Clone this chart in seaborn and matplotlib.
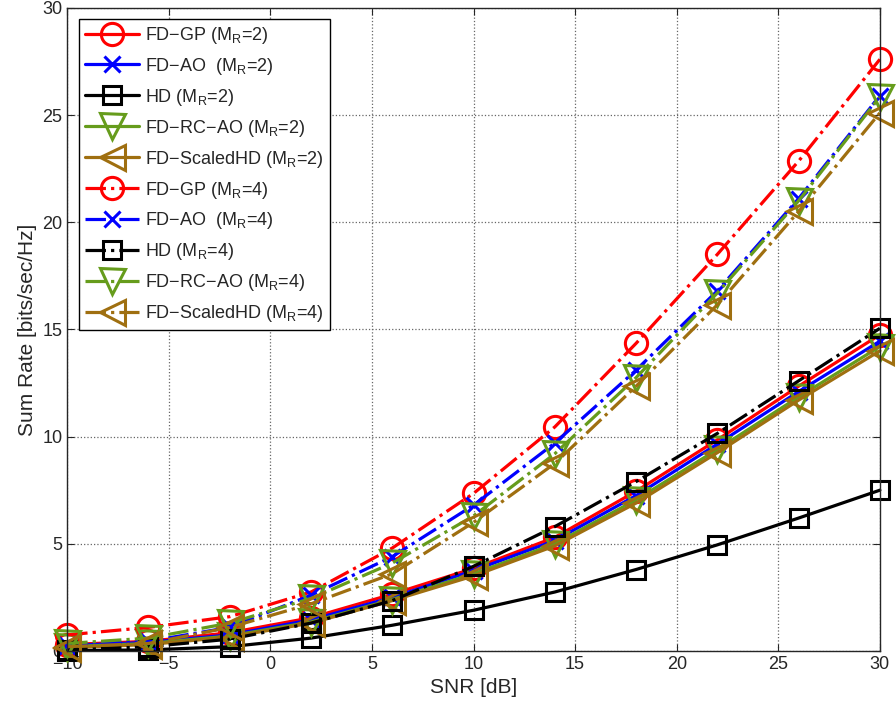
import pandas as pd
import seaborn as sns
import matplotlib.pyplot as plt

# SNR points (dB)
snr = [-10, -6, -2, 2, 6, 10, 14, 18, 22, 26, 30]

# sum rate, M_R = 2 (solid)
gp_2 = [0.3, 0.45, 0.85, 1.55, 2.65, 3.85, 5.3, 7.45, 9.85, 12.35, 14.75]
ao_2 = [0.25, 0.4, 0.75, 1.45, 2.5, 3.75, 5.15, 7.25, 9.65, 12.1, 14.45]
hd_2 = [0.02, 0.05, 0.2, 0.6, 1.2, 1.9, 2.75, 3.8, 4.95, 6.2, 7.5]
rcao_2 = [0.2, 0.35, 0.7, 1.35, 2.4, 3.6, 5.0, 7.05, 9.4, 11.85, 14.2]
scaled_2 = [0.15, 0.3, 0.65, 1.3, 2.35, 3.5, 4.9, 6.9, 9.25, 11.7, 14.0]

# sum rate, M_R = 4 (dash-dot)
gp_4 = [0.75, 1.1, 1.6, 2.75, 4.8, 7.35, 10.45, 14.35, 18.5, 22.85, 27.6]
ao_4 = [0.3, 0.45, 1.1, 2.6, 4.4, 6.8, 9.7, 13.1, 16.8, 21.1, 25.9]
hd_4 = [0.05, 0.2, 0.55, 1.3, 2.35, 3.95, 5.8, 7.9, 10.15, 12.6, 15.05]
rcao_4 = [0.35, 0.6, 1.3, 2.45, 4.1, 6.3, 9.2, 12.75, 16.7, 21.0, 25.85]
scaled_4 = [0.2, 0.35, 1.1, 2.2, 3.6, 6.0, 8.75, 12.35, 16.15, 20.5, 25.1]

M = "\u2212"
series = [
    (f"FD{M}GP (M$_\\mathrm{{R}}$=2)", gp_2, "red", "o", "-"),
    (f"FD{M}AO  (M$_\\mathrm{{R}}$=2)", ao_2, "blue", "x", "-"),
    ("HD (M$_\\mathrm{R}$=2)", hd_2, "black", "s", "-"),
    (f"FD{M}RC{M}AO (M$_\\mathrm{{R}}$=2)", rcao_2, "#669c1c", "v", "-"),
    (f"FD{M}ScaledHD (M$_\\mathrm{{R}}$=2)", scaled_2, "#9f6f10", "<", "-"),
    (f"FD{M}GP (M$_\\mathrm{{R}}$=4)", gp_4, "red", "o", "-."),
    (f"FD{M}AO  (M$_\\mathrm{{R}}$=4)", ao_4, "blue", "x", "-."),
    ("HD (M$_\\mathrm{R}$=4)", hd_4, "black", "s", "-."),
    (f"FD{M}RC{M}AO (M$_\\mathrm{{R}}$=4)", rcao_4, "#669c1c", "v", "-."),
    (f"FD{M}ScaledHD (M$_\\mathrm{{R}}$=4)", scaled_4, "#9f6f10", "<", "-."),
]
marker_size = {"o": 16, "x": 11, "s": 13, "v": 18, "<": 18}

sns.set_style("ticks")
plt.rcParams["font.family"] = ["Liberation Sans", "DejaVu Sans"]
plt.rcParams["mathtext.fontset"] = "custom"
plt.rcParams["mathtext.rm"] = "Liberation Sans"
plt.rcParams["mathtext.it"] = "Liberation Sans:italic"

fig = plt.figure(figsize=(8.96, 7.13), dpi=100)
ax = fig.add_axes([0.075, 0.087, 0.907, 0.902])

for label, vals, color, marker, ls in series:
    df = pd.DataFrame({"snr": snr, "rate": vals})
    sns.lineplot(data=df, x="snr", y="rate", ax=ax, color=color, marker=marker,
                 linestyle=ls, linewidth=2.3, markersize=marker_size[marker],
                 markerfacecolor="none", markeredgecolor=color,
                 markeredgewidth=2.2, label=label, clip_on=False)

ax.set_xlim(-10, 30)
ax.set_ylim(0, 30)
ax.set_xticks(range(-10, 31, 5))
ax.set_yticks(range(0, 31, 5))
ax.set_xticklabels([str(t).replace("-", M) for t in range(-10, 31, 5)])
ax.grid(True, linestyle=":", color="#666666", linewidth=0.9)
ax.tick_params(direction="in", top=True, right=True, labelsize=13, length=5)
for s in ax.spines.values():
    s.set_linewidth(1.0)
ax.set_xlabel("SNR [dB]", fontsize=15)
ax.set_ylabel("Sum Rate [bits/sec/Hz]", fontsize=15)

leg = ax.legend(loc="upper left", fontsize=13, handlelength=3.0,
                labelspacing=0.55, borderpad=0.3, fancybox=False,
                framealpha=1, edgecolor="black", handletextpad=0.35,
                bbox_to_anchor=(0.004, 0.996))
leg.get_frame().set_linewidth(1.0)

fig.savefig("out.png", dpi=100)
